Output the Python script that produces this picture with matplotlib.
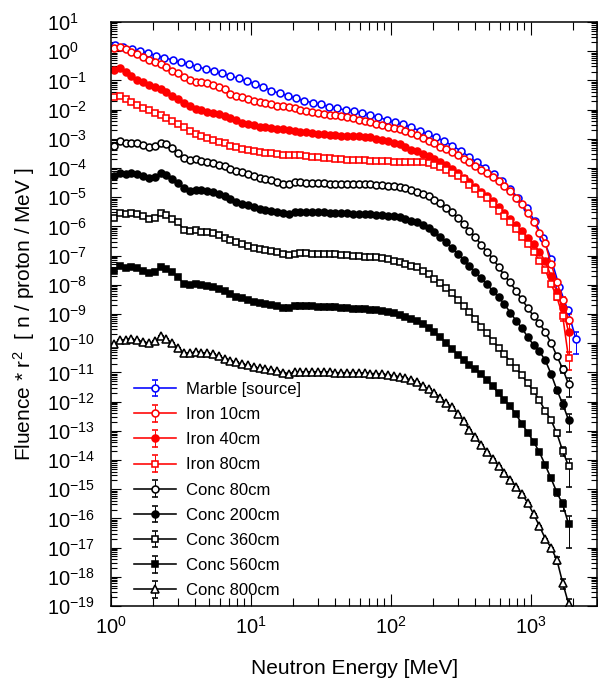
import numpy as np
import matplotlib

matplotlib.use("Agg")
import matplotlib.pyplot as plt
from matplotlib.ticker import LogLocator, NullFormatter, LogFormatterSciNotation

plt.rcParams["font.family"] = ["Liberation Sans", "DejaVu Sans"]
plt.rcParams["mathtext.fontset"] = "custom"
plt.rcParams["mathtext.rm"] = "Liberation Sans"
plt.rcParams["mathtext.it"] = "Liberation Sans:italic"
plt.rcParams["mathtext.bf"] = "Liberation Sans:bold"

# bin centres [MeV]: source spectrum (17 bins/decade), shielded spectra (24 bins/decade)
energy_marble = [
    1.070, 1.225, 1.403, 1.607, 1.840, 2.107, 2.412, 2.762, 3.162, 3.621,
    4.146, 4.747, 5.435, 6.224, 7.127, 8.161, 9.345, 10.70, 12.25, 14.03,
    16.07, 18.40, 21.07, 24.12, 27.62, 31.62, 36.21, 41.46, 47.47, 54.35,
    62.24, 71.27, 81.61, 93.45, 107.0, 122.5, 140.3, 160.7, 184.0, 210.7,
    241.2, 276.2, 316.2, 362.1, 414.6, 474.7, 543.5, 622.4, 712.7, 816.1,
    934.5, 1070, 1225, 1403, 1607, 1840, 2107,
]
energy = [
    1.049, 1.155, 1.271, 1.399, 1.540, 1.695, 1.866, 2.054, 2.261, 2.489,
    2.738, 3.014, 3.318, 3.652, 4.020, 4.424, 4.870, 5.361, 5.900, 6.494,
    7.149, 7.868, 8.660, 9.532, 10.49, 11.55, 12.71, 13.99, 15.40, 16.95,
    18.66, 20.54, 22.61, 24.89, 27.38, 30.14, 33.18, 36.52, 40.20, 44.24,
    48.70, 53.61, 59.00, 64.94, 71.49, 78.68, 86.60, 95.32, 104.9, 115.5,
    127.1, 139.9, 154.0, 169.5, 186.6, 205.4, 226.1, 248.9, 273.8, 301.4,
    331.8, 365.2, 402.0, 442.4, 487.0, 536.1, 590.0, 649.4, 714.9, 786.8,
    866.0, 953.2, 1049, 1155, 1271, 1399, 1540, 1695, 1866,
]

# log10( fluence * r^2 )
log_marble = [
    0.21, 0.13, 0.07, 0.01, -0.07, -0.15, -0.22, -0.30, -0.38, -0.45,
    -0.53, -0.61, -0.69, -0.76, -0.84, -0.93, -1.02, -1.11, -1.22, -1.35,
    -1.44, -1.52, -1.61, -1.70, -1.76, -1.82, -1.90, -1.96, -2.01, -2.05,
    -2.11, -2.20, -2.26, -2.35, -2.44, -2.50, -2.61, -2.72, -2.84, -2.95,
    -3.08, -3.24, -3.41, -3.61, -3.81, -4.00, -4.21, -4.45, -4.72, -5.03,
    -5.37, -5.82, -6.40, -7.12, -8.08, -8.86, -9.86,
]
log_iron10 = [
    0.12, 0.15, 0.07, -0.01, -0.11, -0.20, -0.29, -0.38, -0.45, -0.54,
    -0.66, -0.75, -0.87, -0.98, -1.04, -1.06, -1.10, -1.16, -1.21, -1.31,
    -1.45, -1.53, -1.58, -1.64, -1.69, -1.74, -1.78, -1.82, -1.86, -1.89,
    -1.92, -1.96, -2.00, -2.04, -2.08, -2.11, -2.15, -2.17, -2.20, -2.23,
    -2.25, -2.30, -2.34, -2.38, -2.43, -2.48, -2.53, -2.58, -2.62, -2.67,
    -2.74, -2.81, -2.88, -2.97, -3.08, -3.16, -3.27, -3.35, -3.45, -3.57,
    -3.69, -3.79, -3.92, -4.06, -4.18, -4.32, -4.46, -4.62, -4.80, -5.01,
    -5.22, -5.54, -5.85, -6.21, -6.57, -7.29, -7.90, -8.52, -9.21,
]
log_iron40 = [
    -0.64, -0.59, -0.71, -0.84, -0.97, -1.05, -1.14, -1.23, -1.31, -1.41,
    -1.53, -1.65, -1.78, -1.89, -1.97, -2.02, -2.07, -2.12, -2.16, -2.21,
    -2.29, -2.37, -2.45, -2.50, -2.54, -2.58, -2.61, -2.63, -2.66, -2.68,
    -2.71, -2.73, -2.75, -2.77, -2.79, -2.82, -2.84, -2.86, -2.88, -2.89,
    -2.90, -2.91, -2.92, -2.93, -2.95, -2.99, -3.03, -3.08, -3.14, -3.19,
    -3.28, -3.37, -3.43, -3.51, -3.60, -3.68, -3.79, -3.90, -4.03, -4.16,
    -4.33, -4.49, -4.65, -4.81, -4.96, -5.12, -5.33, -5.55, -5.75, -5.95,
    -6.14, -6.38, -6.61, -6.86, -7.20, -7.70, -8.26, -8.79, -9.61,
]
log_iron80 = [
    -1.58, -1.53, -1.65, -1.73, -1.83, -1.93, -2.02, -2.11, -2.19, -2.29,
    -2.39, -2.49, -2.61, -2.72, -2.82, -2.90, -2.97, -3.04, -3.10, -3.16,
    -3.23, -3.29, -3.34, -3.38, -3.42, -3.45, -3.48, -3.50, -3.52, -3.54,
    -3.55, -3.56, -3.57, -3.59, -3.61, -3.62, -3.64, -3.66, -3.68, -3.69,
    -3.71, -3.72, -3.73, -3.74, -3.75, -3.76, -3.77, -3.77, -3.78, -3.78,
    -3.78, -3.79, -3.79, -3.81, -3.84, -3.90, -3.97, -4.06, -4.16, -4.27,
    -4.39, -4.57, -4.73, -4.88, -5.04, -5.23, -5.46, -5.66, -5.85, -6.10,
    -6.35, -6.59, -6.86, -7.17, -7.49, -7.97, -8.42, -9.07, -10.51,
]
log_conc80 = [
    -3.23, -3.08, -3.15, -3.14, -3.16, -3.22, -3.28, -3.24, -3.14, -3.19,
    -3.30, -3.47, -3.64, -3.73, -3.70, -3.75, -3.79, -3.84, -3.88, -3.92,
    -4.03, -4.10, -4.15, -4.21, -4.27, -4.33, -4.37, -4.41, -4.47, -4.53,
    -4.53, -4.48, -4.49, -4.50, -4.50, -4.51, -4.52, -4.53, -4.55, -4.55,
    -4.55, -4.55, -4.55, -4.55, -4.56, -4.57, -4.58, -4.60, -4.62, -4.64,
    -4.69, -4.75, -4.83, -4.90, -4.97, -5.08, -5.21, -5.38, -5.51, -5.70,
    -5.92, -6.14, -6.36, -6.63, -6.87, -7.10, -7.39, -7.68, -7.92, -8.21,
    -8.50, -8.79, -9.07, -9.31, -9.62, -9.99, -10.44, -10.88, -11.40,
]
log_conc200 = [
    -4.27, -4.17, -4.20, -4.18, -4.21, -4.27, -4.35, -4.32, -4.18, -4.25,
    -4.37, -4.52, -4.67, -4.80, -4.74, -4.76, -4.78, -4.83, -4.88, -4.95,
    -5.07, -5.16, -5.22, -5.28, -5.34, -5.39, -5.45, -5.47, -5.50, -5.55,
    -5.56, -5.51, -5.50, -5.50, -5.51, -5.52, -5.52, -5.53, -5.54, -5.54,
    -5.55, -5.57, -5.57, -5.57, -5.59, -5.60, -5.61, -5.63, -5.66, -5.68,
    -5.74, -5.80, -5.86, -5.95, -6.05, -6.20, -6.37, -6.52, -6.75, -6.93,
    -7.14, -7.34, -7.57, -7.78, -7.98, -8.21, -8.43, -8.66, -8.95, -9.23,
    -9.48, -9.79, -10.06, -10.28, -10.58, -11.05, -11.60, -12.08, -12.63,
]
log_conc360 = [
    -5.71, -5.55, -5.58, -5.55, -5.58, -5.64, -5.75, -5.70, -5.55, -5.60,
    -5.73, -5.86, -6.11, -6.17, -6.13, -6.18, -6.18, -6.21, -6.28, -6.38,
    -6.48, -6.54, -6.59, -6.67, -6.74, -6.79, -6.82, -6.84, -6.89, -6.95,
    -6.99, -6.93, -6.92, -6.92, -6.93, -6.93, -6.95, -6.95, -6.96, -6.97,
    -6.99, -7.01, -7.02, -7.04, -7.05, -7.06, -7.08, -7.12, -7.17, -7.21,
    -7.27, -7.34, -7.40, -7.51, -7.64, -7.79, -7.95, -8.11, -8.29, -8.52,
    -8.73, -8.93, -9.16, -9.43, -9.66, -9.92, -10.15, -10.38, -10.63, -10.86,
    -11.10, -11.37, -11.64, -11.95, -12.32, -12.63, -13.09, -13.69, -14.21,
]
log_conc560 = [
    -7.54, -7.37, -7.42, -7.40, -7.43, -7.51, -7.60, -7.55, -7.38, -7.45,
    -7.57, -7.74, -7.96, -8.02, -7.98, -8.02, -8.05, -8.08, -8.14, -8.21,
    -8.32, -8.40, -8.45, -8.53, -8.59, -8.63, -8.67, -8.70, -8.74, -8.78,
    -8.80, -8.73, -8.73, -8.73, -8.74, -8.75, -8.75, -8.76, -8.77, -8.78,
    -8.79, -8.83, -8.83, -8.83, -8.85, -8.87, -8.88, -8.92, -8.98, -9.03,
    -9.10, -9.17, -9.24, -9.35, -9.47, -9.63, -9.79, -10.00, -10.19, -10.39,
    -10.56, -10.73, -10.88, -11.07, -11.26, -11.48, -11.71, -11.94, -12.16, -12.44,
    -12.76, -13.06, -13.37, -13.73, -14.17, -14.63, -15.11, -15.52, -16.19,
]
log_conc800 = [
    -10.04, -9.89, -9.89, -9.87, -9.89, -9.95, -10.00, -9.94, -9.76, -9.84,
    -10.00, -10.15, -10.33, -10.35, -10.30, -10.33, -10.35, -10.38, -10.44, -10.54,
    -10.61, -10.66, -10.71, -10.76, -10.82, -10.86, -10.89, -10.93, -10.96, -11.01,
    -11.04, -11.00, -10.99, -10.99, -10.99, -11.00, -11.00, -11.00, -11.01, -11.01,
    -11.01, -11.01, -11.02, -11.03, -11.04, -11.04, -11.05, -11.09, -11.12, -11.15,
    -11.20, -11.26, -11.33, -11.45, -11.58, -11.71, -11.86, -12.04, -12.20, -12.41,
    -12.66, -12.97, -13.20, -13.49, -13.71, -13.95, -14.20, -14.45, -14.68, -14.91,
    -15.16, -15.47, -15.85, -16.26, -16.69, -17.00, -17.42, -18.21, -18.92,
]

# relative errors of the last three bins (the rest are too small to see)
tail_err_marble = [0.10, 0.20, 0.70]
tail_err_iron10 = [0.15, 0.30, 0.60]
tail_err_iron40 = [0.20, 0.40, 0.85]
tail_err_iron80 = [0.20, 0.30, 0.60]
tail_err_conc80 = [0.15, 0.30, 0.65]
tail_err_conc200 = [0.20, 0.35, 0.60]
tail_err_conc360 = [0.20, 0.35, 0.80]
tail_err_conc560 = [0.25, 0.40, 0.85]
tail_err_conc800 = [0.30, 0.40, 0.50]

labels = ["Marble [source]", "Iron 10cm", "Iron 40cm", "Iron 80cm",
          "Conc 80cm", "Conc 200cm", "Conc 360cm", "Conc 560cm", "Conc 800cm"]

series = [
    (energy_marble, log_marble, tail_err_marble, "#0000ff", "o", False),
    (energy, log_iron10, tail_err_iron10, "#ff0000", "o", False),
    (energy, log_iron40, tail_err_iron40, "#ff0000", "o", True),
    (energy, log_iron80, tail_err_iron80, "#ff0000", "s", False),
    (energy, log_conc80, tail_err_conc80, "black", "o", False),
    (energy, log_conc200, tail_err_conc200, "black", "o", True),
    (energy, log_conc360, tail_err_conc360, "black", "s", False),
    (energy, log_conc560, tail_err_conc560, "black", "s", True),
    (energy, log_conc800, tail_err_conc800, "black", "^", False),
]

fig = plt.figure(figsize=(5.98, 6.82), dpi=100)
ax = fig.add_axes([0.1856, 0.1114, 0.8134, 0.8563])

for (e, logv, tail, color, marker, filled), label in zip(series, labels):
    y = 10.0 ** np.array(logv)
    err = np.zeros_like(y)
    err[-len(tail):] = np.array(tail) * y[-len(tail):]
    ms = 4.6 if marker == "s" else (5.4 if marker == "^" else 5.0)
    ax.errorbar(e, y, yerr=err, color=color, marker=marker, ms=ms,
                mfc=color if filled else "white", mec=color, mew=1.15,
                lw=1.15, elinewidth=0.7, ecolor=color, capsize=2.0,
                capthick=0.7, label=label)

ax.set_xscale("log")
ax.set_yscale("log")
ax.set_xlim(1, 3000)
ax.set_ylim(1e-19, 10)

ax.xaxis.set_major_locator(LogLocator(base=10, numticks=10))
ax.xaxis.set_minor_locator(LogLocator(base=10, subs=np.arange(2, 10), numticks=50))
ax.xaxis.set_minor_formatter(NullFormatter())
ax.set_yticks([10.0 ** p for p in range(-19, 2)])
ax.yaxis.set_major_formatter(LogFormatterSciNotation())
ax.yaxis.set_minor_locator(LogLocator(base=10, subs=np.arange(2, 10), numticks=100))
ax.yaxis.set_minor_formatter(NullFormatter())

ax.tick_params(which="both", direction="in", top=True, right=True, width=0.8)
ax.tick_params(axis="x", which="major", length=9, pad=7, labelsize=14.5)
ax.tick_params(axis="x", which="minor", length=5.5)
ax.tick_params(axis="y", which="major", length=7.5, pad=46, labelsize=14.5)
ax.tick_params(axis="y", which="minor", length=4)
for lbl in ax.get_yticklabels():
    lbl.set_horizontalalignment("left")
for sp in ax.spines.values():
    sp.set_linewidth(1.1)

ax.set_xlabel("Neutron Energy [MeV]", fontsize=15)
ax.set_ylabel("Fluence * r$^{2}$  [ n / proton / MeV ]", fontsize=15)
ax.xaxis.set_label_coords(0.5, -0.09)
ax.yaxis.set_label_coords(-0.152, 0.5)

ax.legend(loc="upper left", bbox_to_anchor=(0.224, 0.440),
          bbox_transform=fig.transFigure, frameon=False, fontsize=12,
          handlelength=2.5, handletextpad=0.65, labelspacing=0.61,
          borderpad=0, borderaxespad=0)

fig.savefig("out.png", dpi=100)
